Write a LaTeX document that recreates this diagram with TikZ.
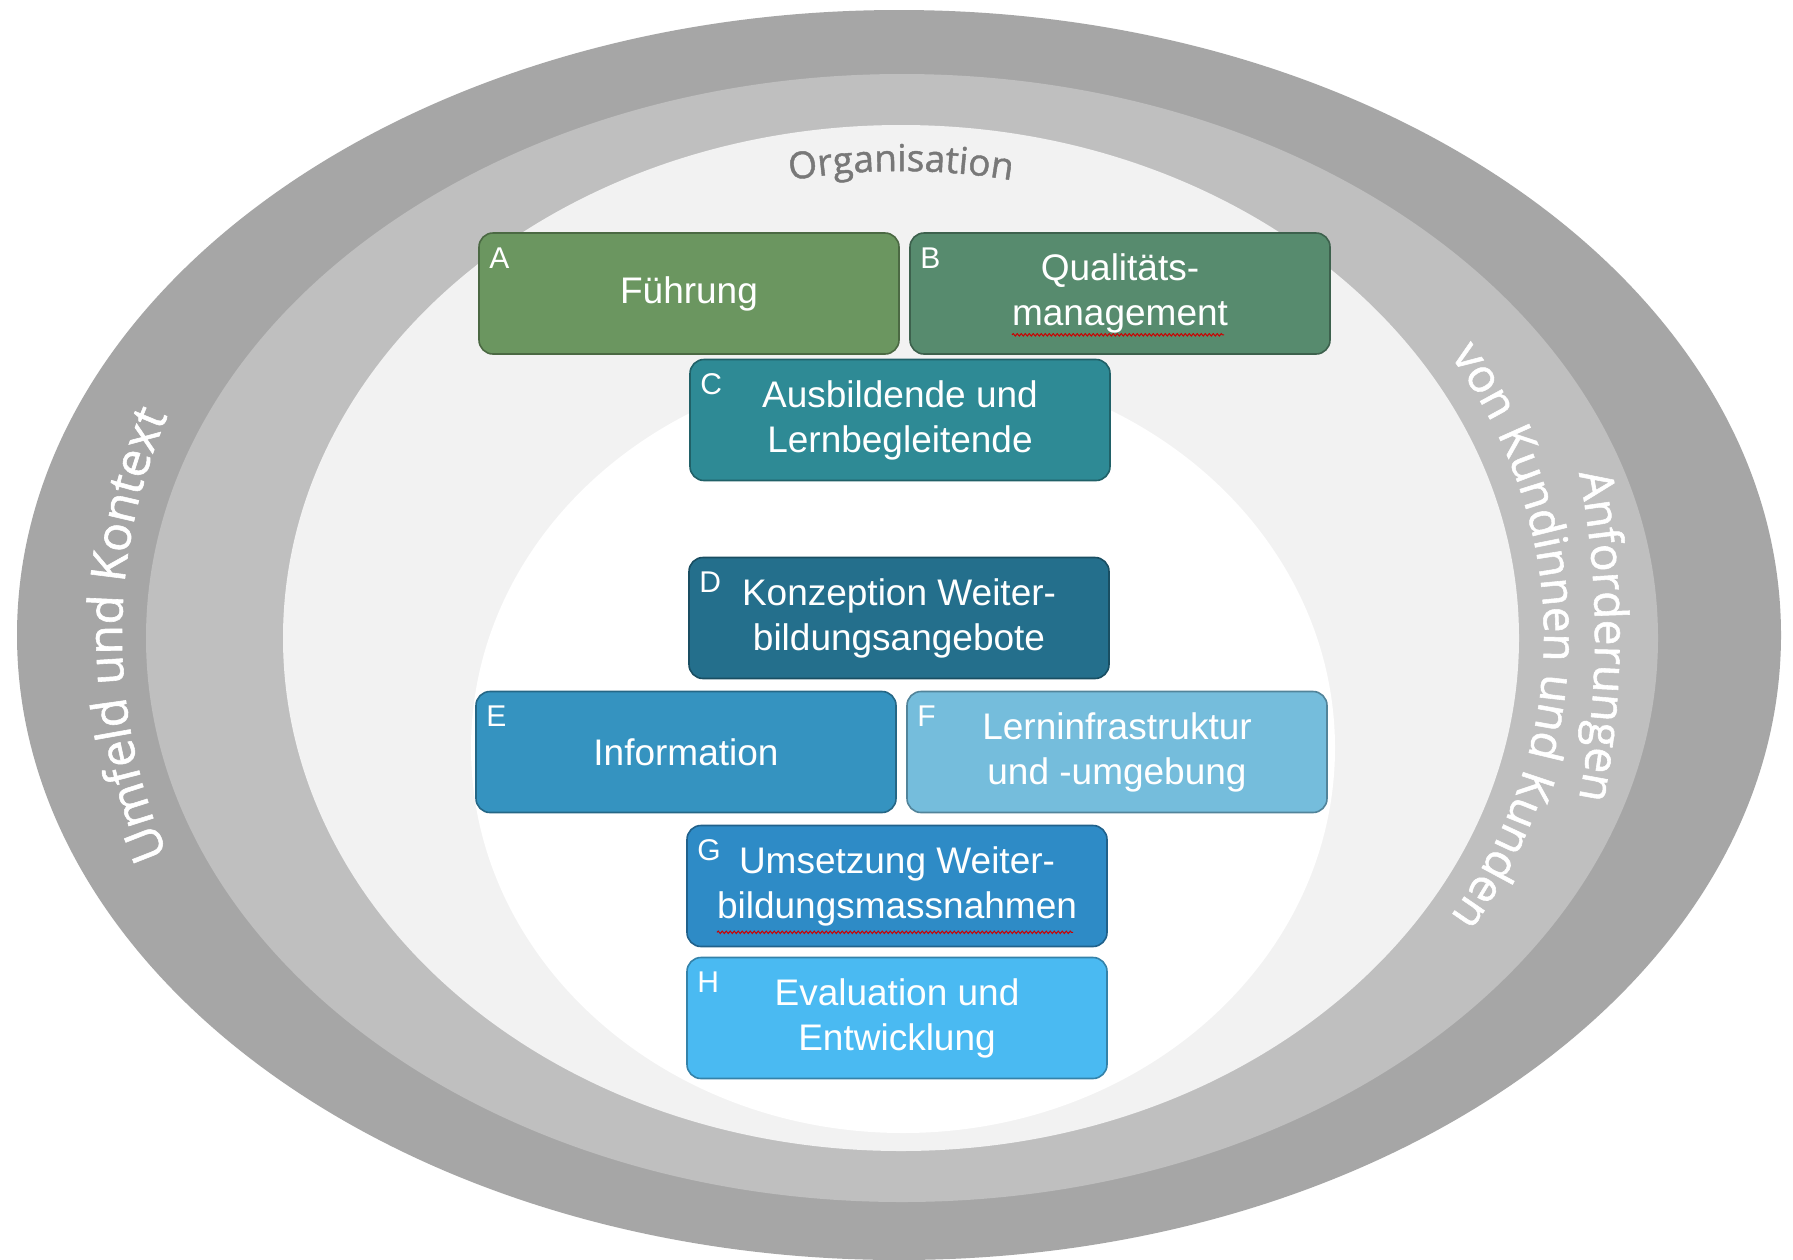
\documentclass[tikz,border=0pt]{standalone}
\usepackage{fontspec}
\setmainfont{Liberation Sans}
\newfontfamily\arcfont{Open Sans}[FakeBold=1.2]
\usetikzlibrary{decorations.text,decorations.pathmorphing,calc}
\definecolor{ringdark}{HTML}{A6A6A6}
\definecolor{ringmid}{HTML}{BFBFBF}
\definecolor{ringlight}{HTML}{F2F2F2}
\definecolor{orggray}{HTML}{787878}
\definecolor{cA}{HTML}{6B9660}
\definecolor{cB}{HTML}{578B6E}
\definecolor{cC}{HTML}{2E8A95}
\definecolor{cD}{HTML}{246F8C}
\definecolor{cE}{HTML}{3593C0}
\definecolor{cF}{HTML}{75BDDC}
\definecolor{cG}{HTML}{2E8BC6}
\definecolor{cH}{HTML}{4ABAF2}
\begin{document}
\begin{tikzpicture}[x=1pt,y=-1pt,
  box/.style={rounded corners=14pt, minimum width=420pt, minimum height=121pt,
    align=center, text=white, font=\fontsize{37}{45}\selectfont, line width=1.6pt, inner sep=0pt},
  lbl/.style={text=white, font=\fontsize{30}{30}\selectfont, anchor=base west, inner sep=0pt},
  squiggle/.style={draw=red!80!black, line width=1pt, decorate,
    decoration={snake, amplitude=1.2pt, segment length=4pt}},
  arctext/.style={decorate, decoration={text along path, text align=center, text color=white}}
]
\useasboundingbox (0,0) rectangle (1793,1259);
\fill[white] (0,0) rectangle (1793,1259);

% rings
\fill[ringdark] (899,635) ellipse [x radius=882pt, y radius=625pt];
\fill[ringmid] (902,638) ellipse [x radius=756pt, y radius=564pt];
\fill[ringlight] (901,638) ellipse [x radius=618pt, y radius=513pt];
\fill[white] (903,748) ellipse [x radius=432pt, y radius=385pt];

% curved texts
\path[arctext, decoration={text={|\arcfont\fontsize{37}{37}\selectfont|Organisation}, text color=orggray}]
  plot[domain=220:320, samples=90, smooth] ({901+560*cos(\x)},{636+465*sin(\x)});
\path[arctext, decoration={text={|\arcfont\fontsize{48}{48}\selectfont|Umfeld und Kontext}}]
  plot[domain=120:240, samples=120, smooth] ({899+777*cos(\x)},{635+650*sin(\x)});
\path[arctext, decoration={text={|\arcfont\fontsize{46}{46}\selectfont|von Kundinnen und Kunden}}]
  plot[domain=-60:60, samples=120, smooth] ({901+643*cos(\x)},{636+540*sin(\x)});
\path[arctext, decoration={text={|\arcfont\fontsize{46}{46}\selectfont|Anforderungen}}]
  plot[domain=-45:45, samples=100, smooth] ({901+694*cos(\x)},{636+760*sin(\x)});

% boxes
\node[box, fill=cA, draw=cA!70!black] (A) at (689,293.5) {Führung};
\node[box, fill=cB, draw=cB!70!black] (B) at (1120,293.5) {Qualitäts-\\management};
\node[box, fill=cC, draw=cC!70!black] (C) at (900,420) {Ausbildende und\\Lernbegleitende};
\node[box, fill=cD, draw=cD!70!black] (D) at (899,618) {Konzeption Weiter-\\bildungsangebote};
\node[box, fill=cE, draw=cE!70!black] (E) at (686,752) {Information};
\node[box, fill=cF, draw=cF!70!black] (F) at (1117,752) {Lerninfrastruktur\\und -umgebung};
\node[box, fill=cG, draw=cG!70!black] (G) at (897,886) {Umsetzung Weiter-\\bildungsmassnahmen};
\node[box, fill=cH, draw=cH!70!black] (H) at (897,1018) {Evaluation und\\Entwicklung};

% letters
\foreach \b in {A,B,C,D,E,F,G,H}{
  \node[lbl] (l\b) at ($(\b.north west)+(11,36)$) {\b};
}

% spell-check squiggles
\draw[squiggle] ($(B.south)+(-108,-20)$) -- ($(B.south)+(104,-20)$);
\draw[squiggle] ($(G.south)+(-180,-15)$) -- ($(G.south)+(176,-15)$);
\end{tikzpicture}
\end{document}
